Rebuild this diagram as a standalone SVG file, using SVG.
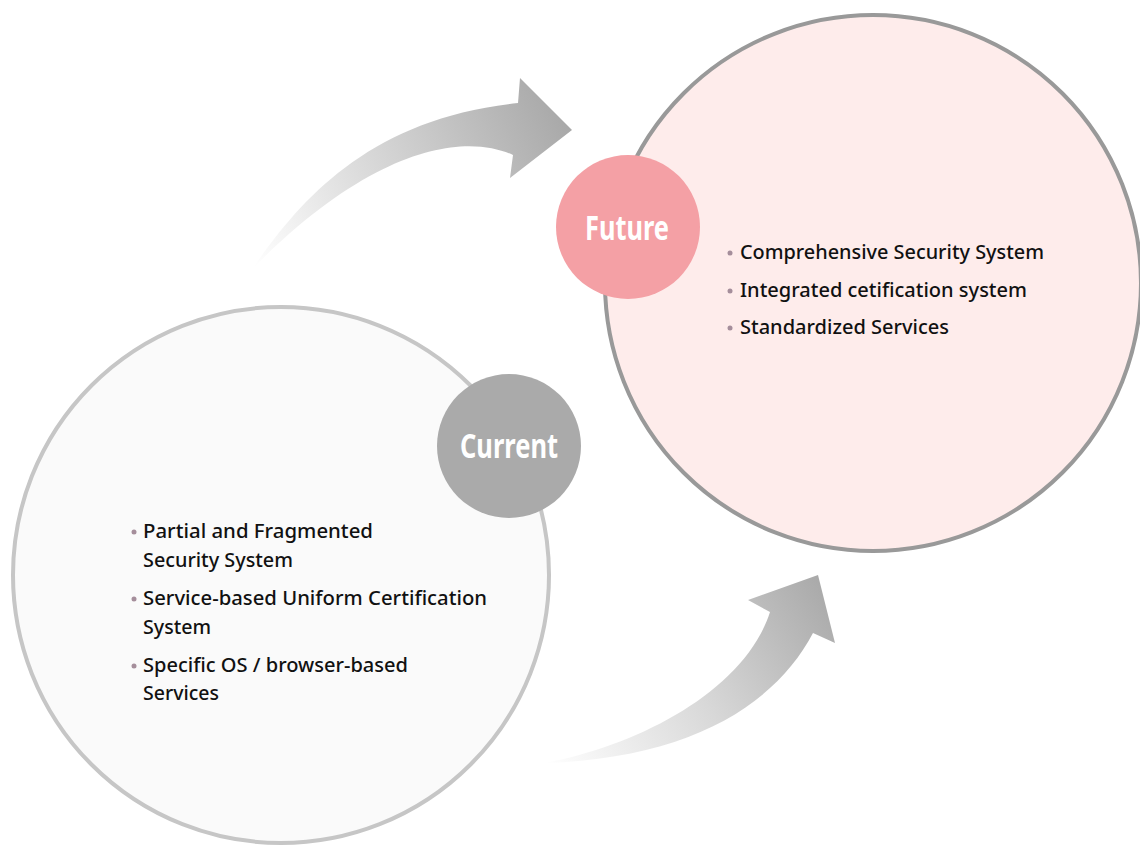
<svg xmlns="http://www.w3.org/2000/svg" width="1140" height="847" viewBox="0 0 1140 847">
<defs>
<linearGradient id="g1" x1="253" y1="268" x2="572" y2="110" gradientUnits="userSpaceOnUse">
<stop offset="0" stop-color="#ffffff"/>
<stop offset="0.45" stop-color="#d6d6d6"/>
<stop offset="1" stop-color="#a6a6a6"/>
</linearGradient>
<linearGradient id="g2" x1="545" y1="765" x2="830" y2="585" gradientUnits="userSpaceOnUse">
<stop offset="0" stop-color="#ffffff"/>
<stop offset="0.5" stop-color="#d8d8d8"/>
<stop offset="1" stop-color="#a8a8a8"/>
</linearGradient>
<style>
.big-cur{fill:#fafafa;stroke:#c6c6c6;stroke-width:4}
.big-fut{fill:#feeceb;stroke:#999999;stroke-width:4}
.lbl{font-family:"Noto Sans","Open Sans",sans-serif;font-weight:700;font-size:34px;fill:#ffffff;text-anchor:middle}
.item{font-family:"Noto Sans","Open Sans",sans-serif;font-weight:500;font-size:20px;fill:#111111}
.dot{fill:#a58e9b}
</style>
</defs>
<g id="connectors">
<path id="arrow-top" fill="url(#g1)" d="M253,268 C300,200 370,118 518,103 L520,78 L572,130 L510,178 L513,155 C470,135 380,140 253,268 Z"/>
<path id="arrow-bottom" fill="url(#g2)" d="M545,763 C640,745 745,690 770,612 L748,600 L818,575 L835,643 L813,633 C775,705 690,758 545,763 Z"/>
</g>
<g id="current">
<circle class="big-cur" cx="281" cy="575" r="268"/>
<circle cx="509" cy="446" r="72" fill="#aaaaaa"/>
<text class="lbl" x="509" y="458" textLength="98" lengthAdjust="spacingAndGlyphs">Current</text>
<circle class="dot" cx="134" cy="532" r="2.5"/>
<text class="item" x="143" y="538" textLength="230" lengthAdjust="spacingAndGlyphs">Partial and Fragmented</text>
<text class="item" x="143" y="567" textLength="150" lengthAdjust="spacingAndGlyphs">Security System</text>
<circle class="dot" cx="134" cy="599" r="2.5"/>
<text class="item" x="143" y="605" textLength="344" lengthAdjust="spacingAndGlyphs">Service-based Uniform Certification</text>
<text class="item" x="143" y="634" textLength="68" lengthAdjust="spacingAndGlyphs">System</text>
<circle class="dot" cx="134" cy="666" r="2.5"/>
<text class="item" x="143" y="672" textLength="265" lengthAdjust="spacingAndGlyphs">Specific OS / browser-based</text>
<text class="item" x="143" y="700" textLength="76" lengthAdjust="spacingAndGlyphs">Services</text>
</g>
<g id="future">
<circle class="big-fut" cx="873" cy="283" r="268"/>
<circle cx="628" cy="227" r="72" fill="#f4a0a5"/>
<text class="lbl" x="627" y="240" textLength="84" lengthAdjust="spacingAndGlyphs">Future</text>
<circle class="dot" cx="730" cy="253" r="2.5"/>
<text class="item" x="740" y="259" textLength="304" lengthAdjust="spacingAndGlyphs">Comprehensive Security System</text>
<circle class="dot" cx="730" cy="291" r="2.5"/>
<text class="item" x="740" y="297" textLength="287" lengthAdjust="spacingAndGlyphs">Integrated cetification system</text>
<circle class="dot" cx="730" cy="328" r="2.5"/>
<text class="item" x="740" y="334" textLength="209" lengthAdjust="spacingAndGlyphs">Standardized Services</text>
</g>
</svg>
